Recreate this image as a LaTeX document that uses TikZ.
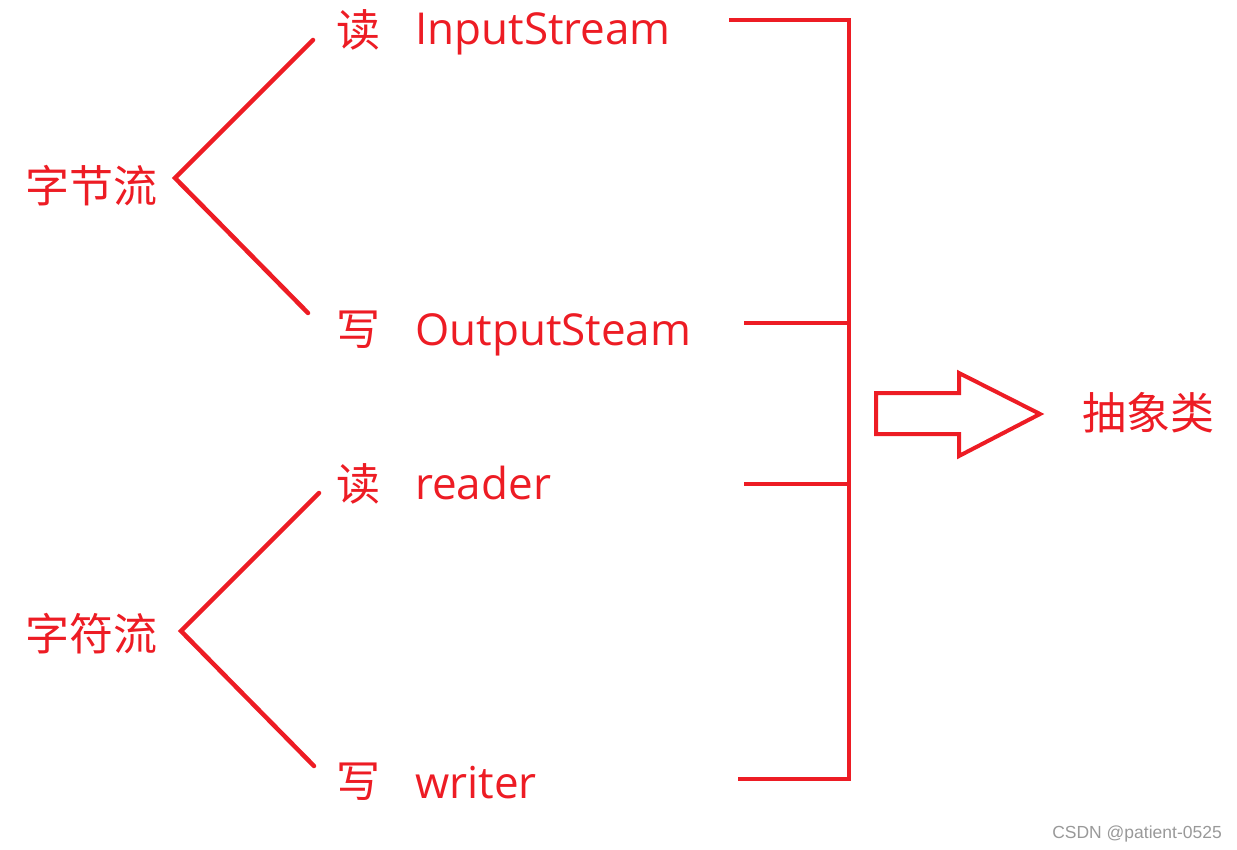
\documentclass[tikz,border=0pt]{standalone}
\usepackage{fontspec}
\setmainfont{Open Sans}
\newfontfamily\cjk{Noto Sans CJK SC}
\newfontfamily\wmfont{Liberation Sans}
\definecolor{paintred}{HTML}{ED1C24}
\tikzset{
  hanzi/.style = {inner sep=0pt, text=paintred,
    font=\cjk\fontsize{44}{44}\selectfont},% caracteres chinois
  latin/.style = {inner sep=0pt, text=paintred, anchor=base west,
    font=\fontsize{44}{44}\selectfont},% noms des classes
  redline/.style = {draw=paintred, line width=4.5pt},
  forkline/.style = {redline, line cap=round},% branches
  wmark/.style = {inner sep=0pt, text=black!40, anchor=base east,
    font=\wmfont\fontsize{17.5}{17.5}\selectfont}
}

\begin{document}
\begin{tikzpicture}[x=1pt,y=-1pt]
\useasboundingbox (0,0) rectangle (1237,850);
% texte
\node [hanzi] (byte) at (91,186) {字节流};
\node [hanzi] (char) at (91,634) {字符流};
\node [hanzi] (rd1) at (358,30) {读};
\node [hanzi] (wr1) at (358,330) {写};
\node [hanzi] (rd2) at (358,484) {读};
\node [hanzi] (wr2) at (358,782) {写};
\node [latin] (in) at (415,45) {InputStream};
\node [latin] (out) at (415,345) {OutputSteam};
\node [latin] (reader) at (415,499) {reader};
\node [latin] (writer) at (415,798) {writer};
\node [hanzi] (abs) at (1148,413) {抽象类};
\node [wmark] (wm) at (1222,838) {CSDN @patient-0525};
% fourches
\coordinate (v1) at (175,178);
\coordinate (v2) at (181,631);
\coordinate (e1) at (313,40);
\coordinate (e2) at (308,313);
\coordinate (e3) at (319,493);
\coordinate (e4) at (314,766);
\draw [forkline] (e1) -- (v1) -- (e2);
\draw [forkline] (e3) -- (v2) -- (e4);
% accolade
\coordinate (s1) at (729,20);
\coordinate (s2) at (744,323);
\coordinate (s3) at (744,484);
\coordinate (s4) at (738,779);
\coordinate (top) at (849,20);
\coordinate (bot) at (849,779);
\draw [redline] (s1) -- (top) -- (bot) -- (s4);
\draw [redline] (s2) -- (s2 -| top);
\draw [redline] (s3) -- (s3 -| top);
% fleche
\draw [redline, line width=4pt] (876,393) -- (959,393) -- (959,373)
  -- (1040,414) -- (959,456) -- (959,434) -- (876,434) -- cycle;
\end{tikzpicture}
\end{document}
